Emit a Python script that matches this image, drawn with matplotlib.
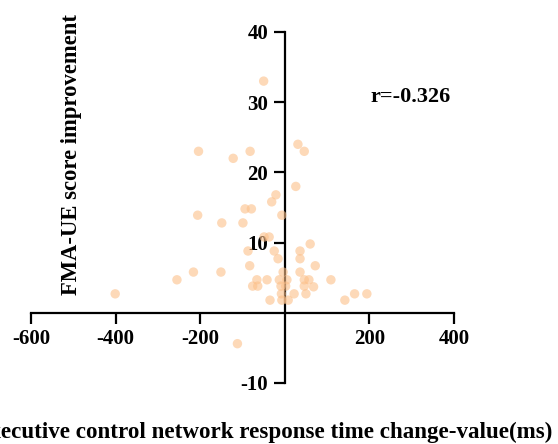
import matplotlib.pyplot as plt
import numpy as np

# response time change (ms) vs FMA-UE improvement
rt_change = [-50, -204, -122, -82, 31, 46, 26, -21, -31, -94, -79, -206, -149, -99, -7,
             -49, -37, -87, -25, -16, 36, 60, 36, -83, 72, 36, -4, -216, -151, -255,
             -66, -42, -13, 5, 46, 57, 109, -76, -64, 2, -9, 46, 68, -8, 22, 50,
             -35, -7, 8, 142, -401, -112, 165, 194]
fma_improve = [33, 23, 22, 23, 24, 23, 18, 16.8, 15.8, 14.8, 14.8, 13.9, 12.8, 12.8, 13.9,
               10.8, 10.8, 8.8, 8.8, 7.7, 8.8, 9.8, 7.7, 6.7, 6.7, 5.8, 5.8, 5.8, 5.8, 4.7,
               4.7, 4.7, 4.7, 4.7, 4.7, 4.7, 4.7, 3.8, 3.8, 3.8, 3.8, 3.8, 3.7, 2.7, 2.7, 2.7,
               1.8, 1.8, 1.8, 1.8, 2.7, -4.4, 2.7, 2.7]
x_ticks = [-600, -400, -200, 200, 400]
y_ticks = [-10, 10, 20, 30, 40]
r_text = "r=-0.326"

plt.rcParams['font.family'] = ['Liberation Serif', 'DejaVu Serif']
plt.rcParams['font.weight'] = 'bold'
plt.rcParams['axes.unicode_minus'] = False

fig = plt.figure(figsize=(5.58, 4.44), dpi=100)
ax = fig.add_axes([0.0556, 0.1374, 0.758, 0.7906])

ax.scatter(rt_change, fma_improve, s=46, color='#FCC08A', alpha=0.6, edgecolors='none', zorder=3)

ax.set_xlim(-600, 400)
ax.set_ylim(-10, 40)
ax.spines['left'].set_position(('data', 0))
ax.spines['bottom'].set_position(('data', 0))
ax.spines['top'].set_visible(False)
ax.spines['right'].set_visible(False)
for s in ['left', 'bottom']:
    ax.spines[s].set_linewidth(1.6)
    ax.spines[s].set_zorder(2)

ax.set_xticks(x_ticks)
ax.set_yticks(y_ticks)
ax.tick_params(direction='out', length=8, width=1.6, labelsize=15, pad=4)
for lab in ax.get_xticklabels() + ax.get_yticklabels():
    lab.set_fontweight('bold')

ax.text(203, 30.7, r_text, fontsize=16, fontweight='bold', va='center', ha='left')

fig.text(0.129, 0.651, "FMA-UE score improvement", rotation=90, fontsize=16.3,
         fontweight='bold', ha='center', va='center')
fig.text(0.472, 0.027, "Executive control network response time change-value(ms)",
         fontsize=16.6, fontweight='bold', ha='center', va='center')

fig.savefig("out.png", dpi=100)
